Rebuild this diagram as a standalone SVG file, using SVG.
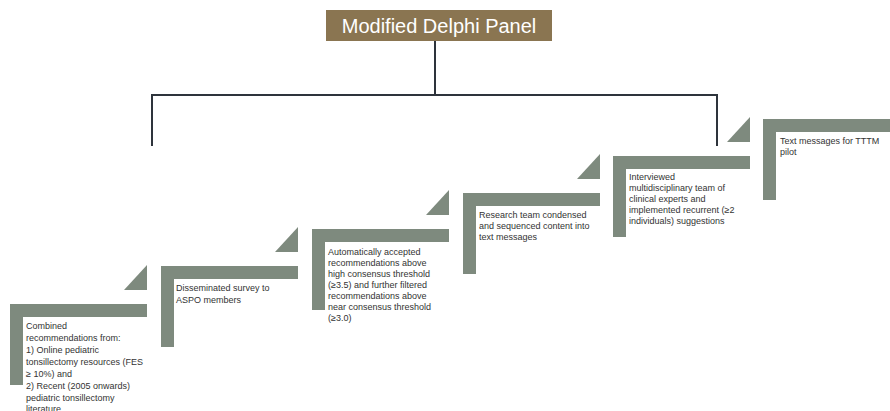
<svg xmlns="http://www.w3.org/2000/svg" xmlns:xlink="http://www.w3.org/1999/xlink" width="890" height="411" viewBox="0 0 890 411">
<style>
.step{fill:#7e8a7e}
.tri{fill:#7e8a7e}
.lbl{font-family:"Liberation Sans",Arial,sans-serif;font-size:9px;fill:#333}
.conn{stroke:#2e343c;stroke-width:2;fill:none}
.title{font-family:"Liberation Sans",Arial,sans-serif;font-size:20px;fill:#ffffff}
</style>
<defs>
<path id="L" d="M0 0 h137 v13 h-124 v68 h-13 z"/>
<path id="T" d="M114 -14 h23 v-25 z"/>
</defs>
<rect width="890" height="411" fill="#ffffff"/>
<g id="connectors">
<path class="conn" d="M435 41 V95"/>
<path class="conn" d="M152 146 V95 H717 V146"/>
</g>
<g id="title">
<rect x="326" y="10" width="226" height="31" fill="#8a7551"/>
<text class="title" x="439" y="32.5" text-anchor="middle">Modified Delphi Panel</text>
</g>
<g id="step1">
<use href="#L" class="step" x="10" y="304"/>
<use href="#T" class="tri" x="10" y="304"/>
<text class="lbl"><tspan x="26" y="328.5">Combined</tspan><tspan x="26" y="340.5">recommendations from:</tspan><tspan x="26" y="352.5">1)  Online pediatric</tspan><tspan x="26" y="364.5">tonsillectomy resources (FES</tspan><tspan x="26" y="376.5">≥ 10%) and</tspan><tspan x="26" y="388.5">2) Recent (2005 onwards)</tspan><tspan x="26" y="400.5">pediatric tonsillectomy</tspan><tspan x="26" y="412">literature</tspan></text>
</g>
<g id="step2">
<use href="#L" class="step" x="161" y="266"/>
<use href="#T" class="tri" x="161" y="266"/>
<text class="lbl"><tspan x="176" y="291">Disseminated survey to</tspan><tspan x="176" y="302.5">ASPO members</tspan></text>
</g>
<g id="step3">
<use href="#L" class="step" x="312" y="229"/>
<use href="#T" class="tri" x="312" y="229"/>
<text class="lbl"><tspan x="328" y="254.5">Automatically accepted</tspan><tspan x="328" y="265.5">recommendations above</tspan><tspan x="328" y="276.5">high consensus threshold</tspan><tspan x="328" y="287.5">(≥3.5) and further filtered</tspan><tspan x="328" y="298.5">recommendations above</tspan><tspan x="328" y="309.5">near consensus threshold</tspan><tspan x="328" y="320.5">(≥3.0)</tspan></text>
</g>
<g id="step4">
<use href="#L" class="step" x="463" y="193"/>
<use href="#T" class="tri" x="463" y="193"/>
<text class="lbl"><tspan x="479" y="217.5">Research team condensed</tspan><tspan x="479" y="228.5">and sequenced content into</tspan><tspan x="479" y="239.5">text messages</tspan></text>
</g>
<g id="step5">
<use href="#L" class="step" x="613" y="156"/>
<use href="#T" class="tri" x="613" y="156"/>
<text class="lbl"><tspan x="629" y="180">Interviewed</tspan><tspan x="629" y="191">multidisciplinary team of</tspan><tspan x="629" y="202">clinical experts and</tspan><tspan x="629" y="213">implemented recurrent (≥2</tspan><tspan x="629" y="224">individuals) suggestions</tspan></text>
</g>
<g id="step6">
<use href="#L" class="step" x="763" y="119"/>
<text class="lbl"><tspan x="780" y="143.5">Text messages for TTTM</tspan><tspan x="780" y="154.5">pilot</tspan></text>
</g>
</svg>
